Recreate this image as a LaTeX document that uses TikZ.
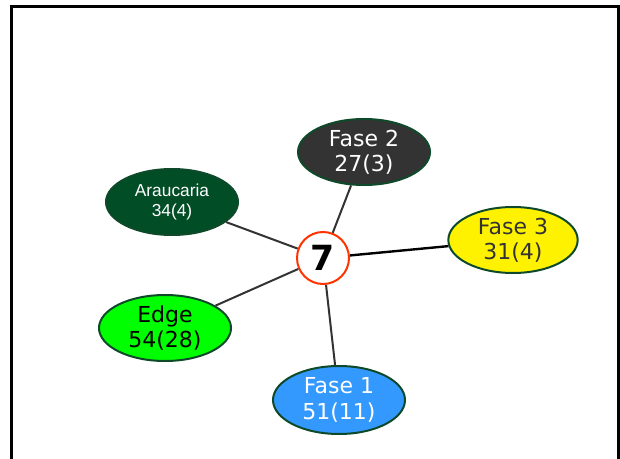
\documentclass[tikz,border=0pt]{standalone}
\usepackage{fontspec}
\setmainfont{DejaVu Sans}
\newfontfamily\arialfont{Liberation Sans}
\usetikzlibrary{shapes.geometric}

\definecolor{rimgreen}{HTML}{0E4A2A}
\definecolor{araugreen}{HTML}{004D26}
\definecolor{fasegray}{HTML}{333333}
\definecolor{edgegreen}{HTML}{00FF00}
\definecolor{faseblue}{HTML}{3399FF}
\definecolor{hubred}{HTML}{FF3300}
\definecolor{linkgray}{HTML}{333333}

\tikzset{every picture/.style={line width=0.75pt}}
\tikzset{
  phase/.style={ellipse, draw=rimgreen, line width=1.5pt, inner sep=0pt,
    minimum width=99pt, minimum height=49.5pt, align=center,
    font=\fontsize{16.5}{19}\selectfont},
  hub/.style={circle, draw=hubred, line width=1.5pt, fill=white, inner sep=0pt,
    minimum size=39pt, font=\fontsize{26}{26}\selectfont\bfseries},
  link/.style={draw=linkgray, line width=1.5pt}
}

\begin{document}
\begin{tikzpicture}[x=0.75pt,y=0.75pt,yscale=-1,xscale=1]
	\useasboundingbox (0,0) rectangle (620,459);
	%Straight Lines: frame
	\draw [line width=2.25pt] (11,462) -- (11,7) -- (618,7) -- (618,462) ;
	%Shape: Circle
	\node [hub] (hub) at (323,258) {7};
	%Shape: Ellipse
	\node [phase, fill=fasegray, text=white] (fase2) at (364,152) {Fase 2\\27(3)};
	%Shape: Ellipse
	\node [phase, fill=araugreen, text=white, font=\arialfont\fontsize{13}{14.5}\selectfont] (arau) at (172,202) {Araucaria\\34(4)};
	%Shape: Ellipse
	\node [phase, fill=yellow, text=fasegray, minimum width=97pt] (fase3) at (513,240) {Fase 3\\31(4)};
	%Shape: Ellipse
	\node [phase, fill=edgegreen, text=black] (edge) at (165,328) {Edge\\54(28)};
	%Shape: Ellipse
	\node [phase, fill=faseblue, text=white, minimum height=51pt] (fase1) at (339,400) {Fase 1\\51(11)};
	%Straight Lines
	\draw [link] (hub) -- (fase2) ;
	\draw [link] (hub) -- (arau) ;
	\draw [link, draw=black, line width=1.8pt] (hub) -- (fase3) ;
	\draw [link] (hub) -- (edge) ;
	\draw [link] (hub) -- (fase1) ;
\end{tikzpicture}
\end{document}
